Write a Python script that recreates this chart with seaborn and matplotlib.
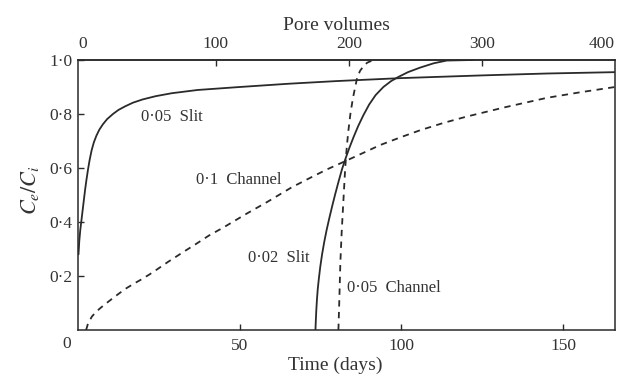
import numpy as np
import pandas as pd
import matplotlib
matplotlib.use("Agg")
import matplotlib.pyplot as plt
from matplotlib.ticker import FuncFormatter
import seaborn as sns

# Breakthrough curves: effluent/influent concentration ratio against time (days)
slit_005_days = [0.15, 0.4, 0.7, 1.0, 1.4, 1.8, 2.2, 2.6, 3.1, 3.6, 4.2, 4.9, 5.7,
                 6.6, 7.7, 9.0, 10.8, 12.5, 14.5, 17.0, 20.0, 24.0, 29.0, 37.0, 50.0,
                 65.0, 80.0, 100.0, 125.0, 145.0, 166.0]
slit_005_conc = [0.28, 0.33, 0.37, 0.40, 0.44, 0.48, 0.52, 0.555, 0.595, 0.63, 0.665,
                 0.695, 0.72, 0.742, 0.762, 0.781, 0.80, 0.815, 0.828, 0.842, 0.854,
                 0.866, 0.877, 0.889, 0.900, 0.912, 0.922, 0.933, 0.943, 0.950, 0.955]

channel_01_days = [2.5, 3.0, 3.6, 4.3, 5.2, 6.5, 8.0, 9.5, 11.0, 13.0, 15.0, 17.2, 19.4,
                   22.0, 24.5, 27.8, 32.7, 36.4, 40.5, 45.0, 52.0, 58.6, 66.0, 72.0,
                   77.0, 82.0, 88.0, 93.4, 100.0, 105.8, 113.0, 120.0, 132.0, 145.0,
                   155.0, 166.0]
channel_01_conc = [0.0, 0.02, 0.035, 0.05, 0.062, 0.077, 0.092, 0.106, 0.12, 0.138, 0.155,
                   0.171, 0.186, 0.205, 0.225, 0.252, 0.29, 0.318, 0.35, 0.38, 0.43, 0.475,
                   0.528, 0.565, 0.595, 0.622, 0.655, 0.685, 0.715, 0.74, 0.767, 0.79,
                   0.825, 0.86, 0.88, 0.90]

slit_002_days = [73.4, 73.5, 73.65, 73.85, 74.1, 74.45, 74.9, 75.45, 76.1, 76.85, 77.7,
                 78.6, 79.55, 80.55, 81.6, 82.7, 83.9, 85.2, 86.6, 88.2, 90.0, 92.0,
                 94.4, 96.8, 99.0, 102.0, 105.8, 110.0, 114.0, 122.0]
slit_002_conc = [0.0, 0.03, 0.07, 0.11, 0.15, 0.19, 0.235, 0.28, 0.325, 0.37, 0.415,
                 0.46, 0.505, 0.55, 0.595, 0.635, 0.675, 0.715, 0.755, 0.795, 0.835, 0.87,
                 0.90, 0.922, 0.937, 0.955, 0.972, 0.988, 0.998, 1.0]

channel_005_days = [80.5, 80.8, 81.1, 81.5, 82.0, 82.6, 83.1, 83.6, 84.2, 85.0, 85.7,
                    86.3, 87.2, 88.3, 89.4, 91.3]
channel_005_conc = [0.0, 0.12, 0.25, 0.36, 0.47, 0.60, 0.68, 0.74, 0.80, 0.86, 0.90,
                    0.935, 0.96, 0.978, 0.99, 1.0]

curve_names = ["0·05 Slit", "0·1 Channel", "0·02 Slit", "0·05 Channel"]

x_ticks = [50, 100, 150]
y_ticks = [0.2, 0.4, 0.6, 0.8, 1.0]
pv_ticks = [0, 100, 200, 300, 400]

# Pore volumes flushed per day, and the day at which pore volume zero is reached
PV_PER_DAY = 2.433
PV_OFFSET = 1.5

frames = []
for name, d, c in zip(curve_names,
                      [slit_005_days, channel_01_days, slit_002_days, channel_005_days],
                      [slit_005_conc, channel_01_conc, slit_002_conc, channel_005_conc]):
    frames.append(pd.DataFrame({"days": d, "conc": c, "curve": name}))
df = pd.concat(frames, ignore_index=True)

sns.set_theme(style="ticks")
plt.rcParams["font.family"] = ["Liberation Serif", "DejaVu Serif"]
plt.rcParams["mathtext.fontset"] = "stix"

ink = "#2a2a2a"
txt = "#333333"
fig = plt.figure(figsize=(6.19, 3.83), dpi=100)
ax = fig.add_axes([78 / 619, 1 - 330 / 383, (615 - 78) / 619, (330 - 60) / 383])

line_dashes = {"0·05 Slit": "", "0·02 Slit": "",
               "0·1 Channel": (3.5, 3.0), "0·05 Channel": (3.5, 3.0)}
sns.lineplot(data=df, x="days", y="conc", hue="curve", style="curve",
             palette={n: ink for n in curve_names}, dashes=line_dashes,
             estimator=None, sort=False, legend=False, lw=1.3, ax=ax)

ax.set_xlim(0, 166.0)
ax.set_ylim(0, 1.0)
ax.set_xticks(x_ticks)
ax.set_yticks(y_ticks)
dot_fmt = FuncFormatter(lambda v, _: f"{v:.1f}".replace(".", "·"))
ax.yaxis.set_major_formatter(dot_fmt)

for s in ax.spines.values():
    s.set_visible(True)
    s.set_linewidth(1.1)
    s.set_color(ink)

ax.tick_params(axis="both", direction="in", length=4, width=1.0, colors=ink,
               labelsize=12.5, labelcolor=txt)
ax.tick_params(axis="x", pad=6)
ax.tick_params(axis="y", pad=4)

# Shared origin label at the lower-left corner
ax.annotate("0", xy=(0, 0), xycoords="axes fraction", xytext=(-11, -6),
            textcoords="offset pixels", ha="center", va="top", fontsize=12.5,
            color=txt)

top = ax.secondary_xaxis("top", functions=(lambda d: (np.asarray(d) - PV_OFFSET) * PV_PER_DAY,
                                           lambda p: np.asarray(p) / PV_PER_DAY + PV_OFFSET))
top.set_xticks(pv_ticks)
top.tick_params(direction="in", length=4, width=1.0, colors=ink, labelsize=12.5,
                labelcolor=txt, pad=6)
for i in (0, len(pv_ticks) - 1):
    t = top.xaxis.get_major_ticks()[i]
    t.tick1line.set_visible(False)
    t.tick2line.set_visible(False)
top.xaxis.get_major_ticks()[-1].label2.set_horizontalalignment("right")
top.xaxis.get_major_ticks()[-1].label1.set_horizontalalignment("right")
top.spines["top"].set_linewidth(1.1)

top.set_xlabel("Pore volumes", fontsize=14, color=txt, va="center")
top.xaxis.set_label_coords(0.482, 1.126, transform=ax.transAxes)
ax.set_xlabel("Time (days)", fontsize=14, color=txt)
ax.xaxis.set_label_coords(0.479, -0.10)
ax.set_ylabel("$C_e/C_i$", fontsize=16, color=txt)
ax.yaxis.set_label_coords(-0.068, 0.52)

label_pos = {"0·05 Slit": (19.4, 0.789), "0·1 Channel": (36.4, 0.556),
             "0·02 Slit": (52.7, 0.265), "0·05 Channel": (83.3, 0.156)}
for name, (xd, yd) in label_pos.items():
    ax.text(xd, yd, name.replace(" ", "  "), fontsize=12, color=txt,
            ha="left", va="center")

fig.savefig("out.png", dpi=100, facecolor="white")
